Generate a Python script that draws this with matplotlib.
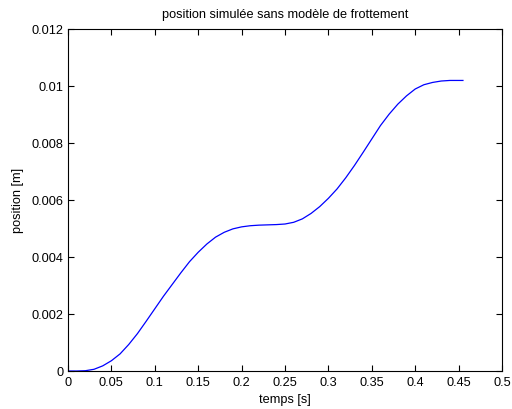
import matplotlib
matplotlib.use("Agg")
import matplotlib.pyplot as plt

plt.rcParams['font.family'] = ['Liberation Sans', 'DejaVu Sans']

# simulated position over time (s, m)
temps = [0.00, 0.01, 0.02, 0.03, 0.04, 0.05, 0.06, 0.07, 0.08, 0.09,
         0.10, 0.11, 0.12, 0.13, 0.14, 0.15, 0.16, 0.17, 0.18, 0.19,
         0.20, 0.21, 0.22, 0.23, 0.24, 0.25, 0.26, 0.27, 0.28, 0.29,
         0.30, 0.31, 0.32, 0.33, 0.34, 0.35, 0.36, 0.37, 0.38, 0.39,
         0.40, 0.41, 0.42, 0.43, 0.44, 0.45, 0.455]
position = [0.0, 0.0, 0.00001, 0.00006, 0.00018, 0.00036, 0.00060, 0.00093, 0.00131, 0.00174,
            0.00218, 0.00262, 0.00303, 0.00344, 0.00383, 0.00416, 0.00445, 0.00469, 0.00486, 0.00498,
            0.00505, 0.00509, 0.00511, 0.00512, 0.00513, 0.00515, 0.00521, 0.00533, 0.00552, 0.00576,
            0.00605, 0.00638, 0.00677, 0.00720, 0.00766, 0.00813, 0.00860, 0.00900, 0.00935, 0.00964,
            0.00988, 0.01003, 0.01011, 0.01016, 0.01018, 0.01018, 0.01018]

xticks = [0, 0.05, 0.1, 0.15, 0.2, 0.25, 0.3, 0.35, 0.4, 0.45, 0.5]
xtick_labels = ['0', '0.05', '0.1', '0.15', '0.2', '0.25', '0.3', '0.35', '0.4', '0.45', '0.5']
yticks = [0, 0.002, 0.004, 0.006, 0.008, 0.01, 0.012]
ytick_labels = ['0', '0.002', '0.004', '0.006', '0.008', '0.01', '0.012']

fs = 9.2

fig = plt.figure(figsize=(5.12, 4.10), dpi=100, facecolor='white')
ax = fig.add_axes([68 / 512, 1 - 372 / 410, 434 / 512, 342.5 / 410])

ax.plot(temps, position, color='#0000ff', linewidth=0.9)

ax.set_xlim(0, 0.5)
ax.set_ylim(0, 0.012)
ax.set_xticks(xticks)
ax.set_xticklabels(xtick_labels)
ax.set_yticks(yticks)
ax.set_yticklabels(ytick_labels)
ax.tick_params(direction='in', length=4, width=0.8, top=True, right=True,
               labelsize=fs, pad=3.5, colors='black')
for s in ax.spines.values():
    s.set_linewidth(0.8)

ax.set_title('position simulée sans modèle de frottement', fontsize=fs, pad=8)
ax.set_xlabel('temps [s]', fontsize=fs, va='center')
ax.set_ylabel('position [m]', fontsize=fs, va='center')
ax.xaxis.set_label_coords(0.5, -0.0818)
ax.yaxis.set_label_coords(-0.1152, 0.5)

fig.savefig('out.png', dpi=100, facecolor='white')
